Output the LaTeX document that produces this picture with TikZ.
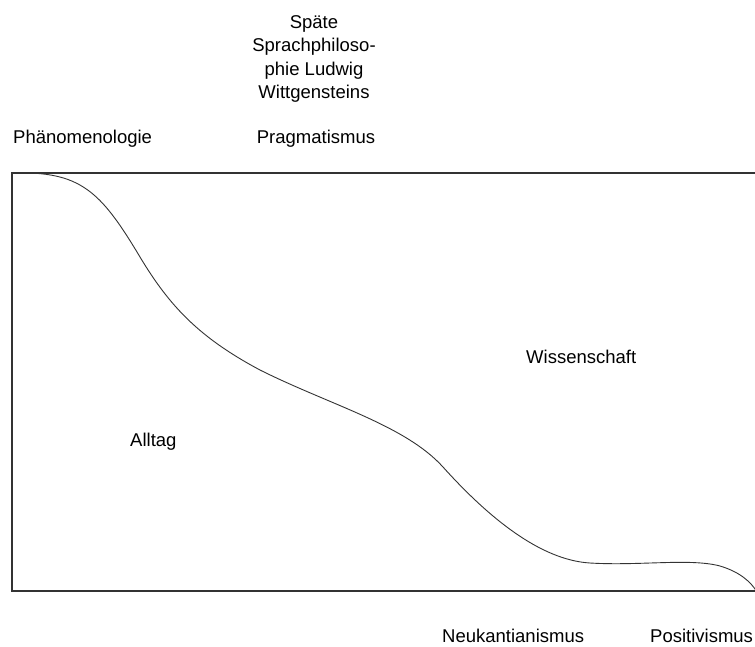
\documentclass[tikz,border=0pt]{standalone}
\usepackage{fontspec}
\setmainfont{Liberation Sans}
\begin{document}
\begin{tikzpicture}[x=1pt,y=-1pt,
  lbl/.style={inner sep=0pt,font=\fontsize{18.5}{23.5}\selectfont},
  edge/.style={line width=1.1pt,draw=black!80},
  curve/.style={line width=0.9pt,draw=black!80}]
\useasboundingbox (0,0) rectangle (755,646);
% frame (right edge lies beyond the picture)
\coordinate (tr) at (760,173);
\coordinate (tl) at (12,173);
\coordinate (bl) at (12,591);
\coordinate (br) at (760,591);
\draw[edge] (tr) -- (tl) -- (bl) -- (br);
% boundary curve
\coordinate (c0) at (12,173);
\coordinate (c1) at (140,257);
\coordinate (c2) at (260,370);
\coordinate (c3) at (443,467);
\coordinate (c4) at (590,563);
\coordinate (c5) at (720,566);
\coordinate (c6) at (757,592);
\draw[curve] (c0) .. controls (80,171) and (100,190) .. (c1)
  .. controls (170,307) and (200,338) .. (c2)
  .. controls (330,405) and (405,425) .. (c3)
  .. controls (488,517) and (540,560) .. (c4)
  .. controls (640,566) and (690,558) .. (c5)
  .. controls (740,572) and (751,582) .. (c6);
% labels
\node[lbl,anchor=base west] (phaen) at (13,143) {Phänomenologie};
\node[lbl,anchor=base] (prag) at (316,143) {Pragmatismus};
\node[lbl,anchor=north,align=center] (witt) at (314,15) {Späte\\Sprachphiloso-\\phie Ludwig\\Wittgensteins};
\node[lbl,anchor=base west] (alltag) at (130,446) {Alltag};
\node[lbl,anchor=base west] (wiss) at (526,363) {Wissenschaft};
\node[lbl,anchor=base west] (neuk) at (442,642) {Neukantianismus};
\node[lbl,anchor=base west] (posi) at (650,642) {Positivismus};
\end{tikzpicture}
\end{document}
